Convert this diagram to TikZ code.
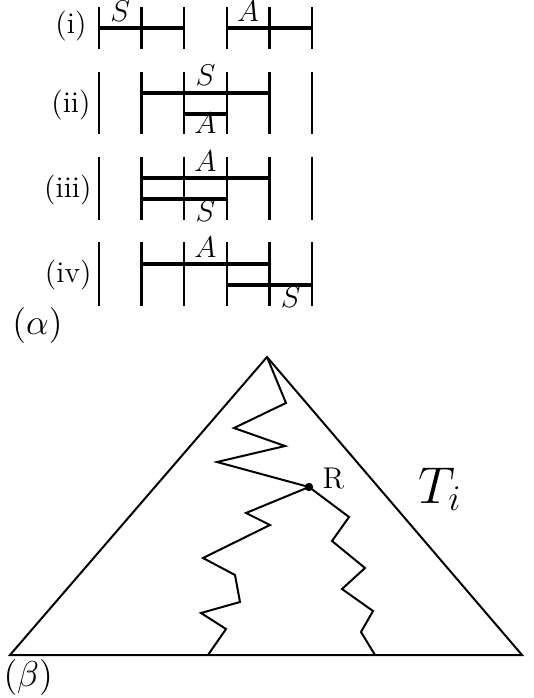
\documentclass[tikz,border=0pt]{standalone}
\usepackage{amsmath}
\usetikzlibrary{positioning}

\begin{document}
\begin{tikzpicture}[
  x=0.4pt, y=-0.4pt,
  tick/.style={line width=0.9pt},
  bar/.style={line width=1.3pt},
  edge/.style={line width=0.8pt, line join=miter},
  lbl/.style={inner sep=0pt, anchor=base, font=\large},
  row/.style={inner sep=0pt, anchor=base east, font=\large},
]
\useasboundingbox (0,0) rectangle (533,698);

%% ---------- (alpha) the four rows ----------
\foreach \ya/\yb in {7/49, 72/134, 157/220, 242/306}
  \foreach \x in {99,141.6,184.2,226.8,269.4,312}
    \draw[tick] (\x,\ya) -- (\x,\yb);

\node[row] (ri)   at (87,34)  {(i)};
\node[row] (rii)  at (91,113) {(ii)};
\node[row] (riii) at (92,198) {(iii)};
\node[row] (riv)  at (92,283) {(iv)};

% (i)
\draw[bar] (99,28) -- (184.2,28);
\draw[bar] (226.8,28) -- (312,28);
\node[lbl] (s1) at (120.3,22) {$S$};
\node[lbl] (a1) at (248.1,22) {$A$};

% (ii)
\draw[bar] (141.6,93) -- (269.4,93);
\draw[bar] (184.2,114) -- (226.8,114);
\node[lbl] (s2) at (205.5,86) {$S$};
\node[lbl] (a2) at (205.5,134) {$A$};

% (iii)
\draw[bar] (141.6,178) -- (269.4,178);
\draw[bar] (141.6,199) -- (226.8,199);
\node[lbl] (a3) at (205.5,172) {$A$};
\node[lbl] (s3) at (205.5,222) {$S$};

% (iv)
\draw[bar] (141.6,264) -- (269.4,264);
\draw[bar] (226.8,285) -- (312,285);
\node[lbl] (a4) at (205.5,258) {$A$};
\node[lbl] (s4) at (290.7,308) {$S$};

\node[inner sep=0pt, anchor=base west, font=\Large] (alpha) at (12,334) {$(\alpha)$};

%% ---------- (beta) the tree T_i ----------
\draw[edge] (267,357) -- (10,655) -- (522,655) -- cycle;

\coordinate (R) at (309,487);
\draw[edge] (267,357) -- (286,403) -- (234,428) -- (285,446) -- (217,462) -- (R);
\draw[edge] (R) -- (246,513) -- (270,525) -- (203,558) -- (235,575)
  -- (240,602) -- (201,613) -- (226,629) -- (208,655);
\draw[edge] (R) -- (349,517) -- (332,541) -- (365,568) -- (342,589)
  -- (373,611) -- (361,632) -- (375,655);
\fill (R) circle (4.2);

\node[inner sep=0pt, anchor=base west, font=\large] (rlbl) at (322,488) {R};
\node[inner sep=0pt, anchor=base west, font=\huge] (ti) at (418,503) {$T_i$};
\node[inner sep=0pt, anchor=base west, font=\Large] (beta) at (3,686) {$(\beta)$};

\end{tikzpicture}
\end{document}
